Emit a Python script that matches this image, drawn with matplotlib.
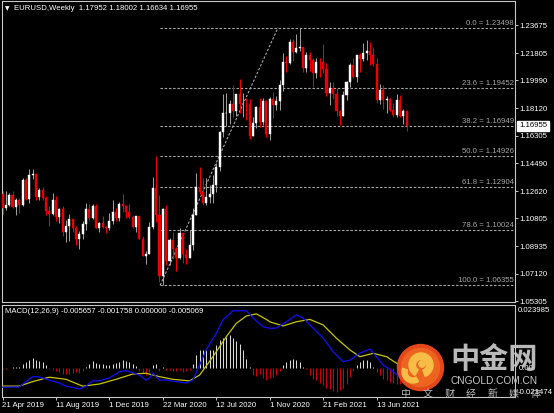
import matplotlib
matplotlib.use('Agg')
import matplotlib.pyplot as plt
import numpy as np
import pandas as pd
from matplotlib.patches import Circle, Wedge

# ---------------- data ----------------
opens = [1.1245,1.1150,1.1170,1.1235,1.1157,1.1205,1.1170,1.1333,1.1208,1.1370,
1.1373,1.1225,1.1270,1.1218,1.1127,1.1108,1.1200,1.1090,1.1145,1.0990,
1.1027,1.1075,1.1017,1.0940,1.0978,1.1040,1.1145,1.1080,1.1166,1.1018,
1.1052,1.1020,1.1016,1.1060,1.1120,1.1080,1.1178,1.1160,1.1120,1.1090,
1.1025,1.1093,1.0945,1.0830,1.0845,1.1025,1.1285,1.1105,1.0695,1.1140,
1.0800,1.0935,1.0875,1.0820,1.0980,1.0840,1.0820,1.0900,1.1100,1.1290,
1.1255,1.1180,1.1220,1.1245,1.1300,1.1425,1.1655,1.1780,1.1785,1.1842,
1.1795,1.1905,1.1840,1.1845,1.1840,1.1630,1.1715,1.1825,1.1720,1.1860,
1.1645,1.1875,1.1835,1.1860,1.1965,1.2120,1.2115,1.2255,1.2185,1.2215,
1.2220,1.2080,1.2170,1.2135,1.2045,1.2120,1.2118,1.2075,1.1915,1.1950,
1.1905,1.1795,1.1760,1.1900,1.1985,1.2100,1.2020,1.2165,1.2140,1.2180,
1.2193,1.2165,1.2105,1.1865,1.1935,1.1865,1.1875,1.1805,1.1770,1.1870,
1.1760,1.17952]
highs = [1.1265,1.1265,1.1251,1.1264,1.1215,1.1215,1.1348,1.1347,1.1412,1.1412,
1.1385,1.1285,1.1286,1.1230,1.1160,1.1250,1.1230,1.1150,1.1164,1.1068,
1.1110,1.1075,1.1030,1.0999,1.1063,1.1180,1.1179,1.1175,1.1176,1.1058,
1.1097,1.1030,1.1116,1.1200,1.1150,1.1190,1.1240,1.1170,1.1173,1.1100,
1.1095,1.1096,1.0960,1.0865,1.1053,1.1355,1.1496,1.1236,1.1147,1.1170,
1.0952,1.0990,1.0890,1.1019,1.0980,1.0875,1.1000,1.1147,1.1384,1.1422,
1.1348,1.1349,1.1303,1.1371,1.1452,1.1662,1.1908,1.1916,1.1866,1.1966,
1.1910,1.2011,1.1917,1.1883,1.1873,1.1755,1.1831,1.1880,1.1880,1.1870,
1.1890,1.1920,1.1892,1.1999,1.2178,1.2163,1.2273,1.2272,1.2310,1.23498,
1.2223,1.2190,1.2189,1.2150,1.2150,1.2145,1.2243,1.2113,1.1990,1.1990,
1.1945,1.1800,1.1927,1.1994,1.2116,1.2150,1.2170,1.2181,1.2245,1.2266,
1.2254,1.2218,1.2145,1.1975,1.1970,1.1895,1.1880,1.1850,1.1909,1.1900,
1.1806,1.18002]
lows = [1.1112,1.1135,1.1163,1.1152,1.1105,1.1116,1.1160,1.1200,1.1181,1.1345,
1.1205,1.1200,1.1200,1.1101,1.1027,1.1100,1.1066,1.1052,1.0965,1.0926,
1.0927,1.0990,1.0905,1.0879,1.0940,1.1000,1.1070,1.1073,1.1014,1.0989,
1.1015,1.0981,1.1003,1.1040,1.1065,1.1065,1.1125,1.1086,1.1085,1.1018,
1.0992,1.0940,1.0827,1.0778,1.0840,1.1010,1.1055,1.0654,1.06355,1.0770,
1.0770,1.0811,1.0727,1.0810,1.0783,1.0775,1.0816,1.0870,1.1100,1.1240,
1.1168,1.1168,1.1185,1.1185,1.1255,1.1395,1.1620,1.1696,1.1711,1.1753,
1.1760,1.1780,1.1753,1.1737,1.1612,1.1630,1.1685,1.1688,1.1700,1.1622,
1.1603,1.1746,1.1800,1.1800,1.1925,1.2058,1.2110,1.2130,1.2180,1.2193,
1.2055,1.2055,1.2060,1.1952,1.2015,1.2023,1.2045,1.1894,1.1835,1.1873,
1.1762,1.1704,1.1760,1.1870,1.1955,1.2018,1.1985,1.2052,1.2130,1.2133,
1.2104,1.2093,1.1846,1.1845,1.1807,1.1781,1.1795,1.1752,1.1755,1.1752,
1.1706,1.16634]
closes = [1.1150,1.1170,1.1235,1.1157,1.1205,1.1170,1.1333,1.1208,1.1370,1.1373,
1.1225,1.1270,1.1218,1.1127,1.1108,1.1200,1.1090,1.1145,1.0990,1.1027,
1.1075,1.1017,1.0940,1.0978,1.1040,1.1145,1.1080,1.1166,1.1018,1.1052,
1.1020,1.1016,1.1060,1.1120,1.1080,1.1178,1.1160,1.1120,1.1090,1.1025,
1.1093,1.0945,1.0830,1.0845,1.1025,1.1285,1.1105,1.0695,1.1140,1.0800,
1.0935,1.0875,1.0820,1.0980,1.0840,1.0820,1.0900,1.1100,1.1290,1.1255,
1.1180,1.1220,1.1245,1.1300,1.1425,1.1655,1.1780,1.1785,1.1842,1.1795,
1.1905,1.1840,1.1845,1.1840,1.1630,1.1715,1.1825,1.1720,1.1860,1.1645,
1.1875,1.1835,1.1860,1.1965,1.2120,1.2115,1.2255,1.2185,1.2215,1.2220,
1.2080,1.2170,1.2135,1.2045,1.2120,1.2118,1.2075,1.1915,1.1950,1.1905,
1.1795,1.1760,1.1900,1.1985,1.2100,1.2020,1.2165,1.2140,1.2180,1.2193,
1.2165,1.2105,1.1865,1.1935,1.1865,1.1875,1.1805,1.1770,1.1870,1.1760,
1.1795,1.16955]

first_week = '2019-04-21'
date_label_step = 16

price_ticks = [1.23675,1.21805,1.19990,1.18120,1.16305,1.14490,1.12620,
               1.10805,1.08935,1.07120,1.05305]

fib_pcts = [0.0, 23.6, 38.2, 50.0, 61.8, 78.6, 100.0]
fib_vals = [1.23498, 1.19452, 1.16949, 1.14926, 1.12904, 1.10024, 1.06355]
fib_week_low = 47.2
fib_week_high = 82.5

macd_wk = [0,5,7,9,11,14,17,19,23,25,27,29,32,35,37,39,41,43,44,45,46,47,49,52,55,57,
           59,61,64,66,69,73,75,78,80,82,85,88,90,93,96,99,102,104,107,110,111,114,117,120,121]
macd_val = [-0.0073,-0.0072,-0.0052,-0.0033,-0.0034,-0.0046,-0.0057,-0.0069,-0.0080,-0.0069,
            -0.0049,-0.0048,-0.0038,-0.0014,-0.0010,-0.0018,-0.0027,-0.0046,-0.0038,-0.0019,
            -0.0034,-0.0046,-0.0046,-0.0052,-0.0057,-0.0046,0.0011,0.0069,0.0133,0.0183,
            0.0218,0.0218,0.0190,0.0157,0.0151,0.0152,0.0176,0.0202,0.0190,0.0152,
            0.0114,0.0062,0.0024,0.0030,0.0057,0.0072,0.0057,0.0011,-0.0014,-0.0046,-0.0057]
signal_wk = [0,5,9,14,19,24,29,34,39,43,47,51,56,59,63,67,70,73,76,79,80,84,88,92,96,100,
             104,107,111,115,118,121]
signal_val = [-0.0069,-0.0069,-0.0052,-0.0035,-0.0043,-0.0069,-0.0061,-0.0043,-0.0023,-0.0020,
              -0.0033,-0.0043,-0.0049,-0.0027,0.0043,0.0119,0.0170,0.0198,0.0206,0.0185,
              0.0176,0.0160,0.0176,0.0185,0.0164,0.0113,0.0069,0.0043,0.0056,0.0043,0.0018,0.0008]
hist_val = [-0.0002,-0.0002,-0.0001,0.0002,0.0002,0.0003,0.0014,0.0022,0.0029,0.0039,
            0.0032,0.0027,0.0022,0.0010,-0.0002,-0.0006,-0.0011,-0.0015,-0.0022,-0.0024,
            -0.0022,-0.0019,-0.0016,-0.0019,-0.0011,0.0004,0.0014,0.0027,0.0019,0.0016,
            0.0014,0.0010,0.0013,0.0016,0.0019,0.0024,0.0029,0.0027,0.0023,0.0014,
            0.0006,-0.0011,-0.0019,-0.0028,-0.0015,0.0010,0.0016,-0.0011,0.0004,-0.0006,
            -0.0009,-0.0011,-0.0013,-0.0009,-0.0014,-0.0011,-0.0006,0.0016,0.0048,0.0067,
            0.0070,0.0070,0.0070,0.0070,0.0086,0.0108,0.0115,0.0118,0.0124,0.0115,
            0.0103,0.0093,0.0070,0.0036,0.0002,-0.0028,-0.0032,-0.0024,-0.0037,-0.0047,
            -0.0037,-0.0034,-0.0028,-0.0011,0.0010,0.0023,0.0032,0.0036,0.0032,0.0023,
            0.0004,-0.0002,-0.0028,-0.0041,-0.0047,-0.0057,-0.0066,-0.0075,-0.0079,-0.0088,
            -0.0091,-0.0082,-0.0075,-0.0060,-0.0034,-0.0011,0.0010,0.0023,0.0032,0.0032,
            0.0023,0.0004,-0.0015,-0.0028,-0.0041,-0.0047,-0.0053,-0.0057,-0.0060,-0.0060,
            -0.0057,-0.0050]
macd_title = 'MACD(12,26,9) -0.005657 -0.001758 0.000000 -0.005069'
macd_axis_labels = ['0.023985', '0.00', '-0.021474']
symbol = 'EURUSD,Weekly'

# ---------------- layout ----------------
W, H = 554, 413
fig = plt.figure(figsize=(W / 100, H / 100), dpi=100, facecolor='black')
plt.rcParams['font.family'] = ['Liberation Sans', 'DejaVu Sans']
FS = 5.6
GRAY = '#A8A8A8'
SPINE = '#C8C8C8'

def fx(px):
    return px / W

def fy(py):
    return 1 - py / H

PX_PER_WEEK = 3.34
X0 = 2.5  # pixel of first candle centre
xl = ((2 - X0) / PX_PER_WEEK, (515 - X0) / PX_PER_WEEK)

# main price axes: pixel scale price = 1.23675 - (p-25)*k
k = (1.23675 - 1.05305) / (301 - 25)
ylo = 1.23675 - (302 - 25) * k
yhi = 1.23675 - (1 - 25) * k

ax = fig.add_axes([fx(2), fy(302), fx(515) - fx(2), fy(1) - fy(302)])
ax.set_facecolor('black')
ax.set_xlim(*xl)
ax.set_ylim(ylo, yhi)

mk = 2627.0
mx = fig.add_axes([fx(2), fy(397), fx(515) - fx(2), fy(305) - fy(397)])
mx.set_facecolor('black')
mx.set_xlim(*xl)
mx.set_ylim((368 - 397) / mk, (368 - 305) / mk)

for a in (ax, mx):
    for s in a.spines.values():
        s.set_color(SPINE)
        s.set_linewidth(0.8)

# ---------------- candles ----------------
o = np.array(opens); h = np.array(highs); l = np.array(lows); c = np.array(closes)
idx = np.arange(len(o))
up = c >= o
dn = ~up
ax.vlines(idx[up], l[up], h[up], color='#9C9C9C', lw=0.75, zorder=3)
ax.vlines(idx[dn], l[dn], h[dn], color='#F00000', lw=0.75, zorder=3)
ax.bar(idx[up], c[up] - o[up], bottom=o[up], width=0.62, color='white',
       edgecolor='white', linewidth=0.3, zorder=4)
ax.bar(idx[dn], o[dn] - c[dn], bottom=c[dn], width=0.62, color='#F00000',
       edgecolor='#F00000', linewidth=0.3, zorder=4)

# ---------------- fibonacci ----------------
ax.hlines(fib_vals, fib_week_low, xl[1], colors=GRAY, linestyles=(0, (2.2, 1.6)),
          lw=0.8, zorder=2)
ax.plot([fib_week_low, fib_week_high], [fib_vals[-1], fib_vals[0]], color=GRAY,
        ls=(0, (2.2, 1.6)), lw=0.8, zorder=2)
for p, v in zip(fib_pcts, fib_vals):
    ax.annotate(f'{p:.1f} = {v:.5f}', xy=(xl[1], v), xytext=(-1, 1),
                textcoords='offset pixels', ha='right', va='bottom',
                color=GRAY, fontsize=FS, zorder=5)

# ---------------- price axis ----------------
ax.set_xticks([])
ax.yaxis.tick_right()
ax.set_yticks(price_ticks)
ax.set_yticklabels([f'{t:.5f}' for t in price_ticks])
ax.tick_params(axis='y', colors=SPINE, labelcolor='white', labelsize=FS,
               length=2.2, width=0.7, pad=1.2)

ax.annotate(f'{closes[-1]:.5f}', xy=(1.0, closes[-1]),
            xycoords=('axes fraction', 'data'), xytext=(4, 0),
            textcoords='offset pixels', ha='left', va='center',
            color='black', fontsize=FS,
            bbox=dict(boxstyle='square,pad=0.25', fc='white', ec='white'),
            annotation_clip=False, zorder=6)

fig.text(fx(5), fy(9), '\u25BC', color='white', fontsize=4.2, va='center',
         ha='left', family=['DejaVu Sans'])
fig.text(fx(14), fy(9),
         f'{symbol}  {opens[-1]:.5f} {highs[-1]:.5f} {lows[-1]:.5f} {closes[-1]:.5f}',
         color='white', fontsize=FS, va='center', ha='left')

# ---------------- MACD ----------------
hv = np.array(hist_val)
cols = np.where(hv > 0, '#D8D8D8', '#D00000')
mx.vlines(np.arange(len(hv)), 0, hv, colors=cols, lw=0.75, zorder=2)
mx.plot(signal_wk, signal_val, color='#C8C400', lw=0.9, zorder=3)
mx.plot(macd_wk, macd_val, color='#1010FF', lw=0.9, zorder=4)

mx.text(0.006, 0.93, macd_title, transform=mx.transAxes, color='white',
        fontsize=FS, va='center', ha='left')

dates = pd.date_range(first_week, periods=len(closes), freq='7D')
tick_pos = np.arange(0, len(closes), date_label_step)
tick_lab = [f'{d.day} {d.strftime("%b %Y")}' for d in dates[tick_pos]]
mx.set_xticks(tick_pos)
mx.set_xticklabels(tick_lab, ha='left')
mx.set_yticks([])
mx.tick_params(axis='x', colors=SPINE, labelcolor='white', labelsize=FS,
               length=2.5, width=0.7, pad=1.0)

mx.annotate(macd_axis_labels[0], xy=(1.0, 1.0), xycoords='axes fraction',
            xytext=(3, -6), textcoords='offset pixels', ha='left', va='center',
            color='white', fontsize=FS, annotation_clip=False)
mx.annotate(macd_axis_labels[1], xy=(1.0, 0.0), xycoords=('axes fraction', 'data'),
            xytext=(4, 0), textcoords='offset pixels', ha='left', va='center',
            color='white', fontsize=FS, annotation_clip=False)
mx.annotate(macd_axis_labels[2], xy=(1.0, 0.0), xycoords='axes fraction',
            xytext=(3, 5), textcoords='offset pixels', ha='left', va='center',
            color='white', fontsize=FS, annotation_clip=False)

# ---------------- watermark ----------------
ov = fig.add_axes([0, 0, 1, 1], facecolor='none')
ov.set_xlim(0, W)
ov.set_ylim(H, 0)
ov.axis('off')
ov.add_patch(Circle((420.5, 367.5), 23, color='#E4471C', zorder=1))
ov.add_patch(Circle((420.5, 367.5), 19, color='#EC6420', zorder=2))
ov.add_patch(Wedge((421, 365), 12, 120, 430, width=6.5, color='#F6BE46', zorder=3))
ov.add_patch(Wedge((413, 372), 11, 60, 200, width=5, color='#F6BE46', zorder=3))
ov.add_patch(Circle((422, 364), 3.2, color='#F6BE46', zorder=3))
fig.text(fx(494), fy(359), '中金网', color='#C4C4C4', fontsize=21, fontweight='bold',
         ha='center', va='center', family=['Noto Sans CJK SC'], alpha=0.95)
fig.text(fx(494), fy(381), 'CNGOLD.COM.CN', color='#C8C8C8', fontsize=7.3,
         ha='center', va='center')
sub_chars = list('中文财经新媒体')
for i, ch in enumerate(sub_chars):
    fig.text(fx(406 + 21.6 * i), fy(394), ch, color='#BEBEBE', fontsize=7.2,
             ha='center', va='center', family=['Noto Sans CJK SC'])

fig.savefig('out.png', dpi=100, facecolor='black')
